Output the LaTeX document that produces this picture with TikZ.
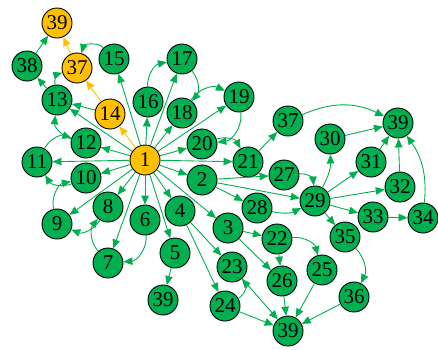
\documentclass[tikz,border=0pt]{standalone}
\usepackage{fontspec}
\setmainfont{Liberation Serif}
\usetikzlibrary{arrows.meta}
\definecolor{gn}{HTML}{00B050}
\definecolor{og}{HTML}{FFC000}
\begin{document}
\begin{tikzpicture}[x=1pt,y=1pt,
 vtx/.style={circle,draw=black,line width=0.9pt,fill=gn,minimum size=30pt,inner sep=0pt,font=\fontsize{21}{21}\selectfont},
 ovtx/.style={vtx,fill=og},
 ed/.style={draw=gn,line width=0.9pt,-{Triangle[length=9pt,width=7.5pt]}},
 oed/.style={ed,draw=og}]
\useasboundingbox (0,0) rectangle (438,-349);
\node[ovtx] (n39a) at (57,-23) {39};
\node[vtx] (n38) at (27,-66) {38};
\node[ovtx] (n37a) at (77,-68) {37};
\node[vtx] (n15) at (114,-59) {15};
\node[vtx] (n13) at (57,-100) {13};
\node[ovtx] (n14) at (110,-114) {14};
\node[vtx] (n17) at (182,-59) {17};
\node[vtx] (n16) at (148,-102) {16};
\node[vtx] (n18) at (182,-113) {18};
\node[vtx] (n19) at (239,-97) {19};
\node[vtx] (n12) at (86,-143) {12};
\node[vtx] (n20) at (202,-144) {20};
\node[ovtx] (n1) at (145,-160) {1};
\node[vtx] (n11) at (37,-162) {11};
\node[vtx] (n10) at (86,-178) {10};
\node[vtx] (n21) at (248,-162) {21};
\node[vtx] (n37b) at (288,-121) {37};
\node[vtx] (n30) at (330,-139) {30};
\node[vtx] (n39b) at (398,-123) {39};
\node[vtx] (n2) at (202,-180) {2};
\node[vtx] (n27) at (284,-175) {27};
\node[vtx] (n31) at (371,-162) {31};
\node[vtx] (n32) at (400,-187) {32};
\node[vtx] (n29) at (315,-201) {29};
\node[vtx] (n9) at (57,-224) {9};
\node[vtx] (n8) at (108,-207) {8};
\node[vtx] (n6) at (145,-220) {6};
\node[vtx] (n4) at (180,-211) {4};
\node[vtx] (n28) at (257,-208) {28};
\node[vtx] (n33) at (373,-217) {33};
\node[vtx] (n34) at (423,-218) {34};
\node[vtx] (n3) at (228,-228) {3};
\node[vtx] (n22) at (277,-239) {22};
\node[vtx] (n35) at (345,-237) {35};
\node[vtx] (n7) at (108,-263) {7};
\node[vtx] (n5) at (175,-253) {5};
\node[vtx] (n23) at (232,-267) {23};
\node[vtx] (n26) at (282,-281) {26};
\node[vtx] (n25) at (322,-270) {25};
\node[vtx] (n39c) at (163,-300) {39};
\node[vtx] (n24) at (225,-306) {24};
\node[vtx] (n36) at (354,-297) {36};
\node[vtx] (n39d) at (288,-331) {39};
% orange edges
\draw[oed] (n1) -- (n14);
\draw[oed] (n14) -- (n37a);
\draw[oed] (n37a) -- (n39a);
% edges from 1
\foreach \t in {n2,n3,n4,n5,n6,n7,n8,n9,n10,n11,n12,n13,n15,n16,n17,n18,n19,n20,n21}
  \draw[ed] (n1) -- (\t);
% upper left
\draw[ed] (n38) -- (n39a);
\draw[ed] (n13) -- (n38);
\draw[ed] (n14) -- (n13);
\draw[ed] (n13) to[bend left=40] (n37a);
\draw[ed] (n15) to[bend right=60] (n37a);
% ring of curved edges
\draw[ed] (n16) to[bend left=40] (n17);
\draw[ed] (n17) to[bend left=40] (n18);
\draw[ed] (n18) to[bend left=40] (n19);
\draw[ed] (n19) to[bend left=45] (n20);
\draw[ed] (n20) to[bend left=40] (n21);
\draw[ed] (n11) to[bend left=40] (n12);
\draw[ed] (n12) to[bend left=40] (n13);
\draw[ed] (n10) to[bend left=40] (n11);
\draw[ed] (n9) to[bend left=45] (n10);
\draw[ed] (n8) to[bend left=40] (n9);
\draw[ed] (n7) to[bend left=40] (n8);
\draw[ed] (n6) to[bend left=45] (n7);
% lower part
\draw[ed] (n5) -- (n39c);
\draw[ed] (n4) -- (n23);
\draw[ed] (n4) -- (n24);
\draw[ed] (n24) to[bend right=50] (n23);
\draw[ed] (n23) -- (n39d);
\draw[ed] (n24) -- (n39d);
\draw[ed] (n3) -- (n22);
\draw[ed] (n3) -- (n26);
\draw[ed] (n22) -- (n26);
\draw[ed] (n26) -- (n39d);
\draw[ed] (n22) to[bend left=40] (n25);
\draw[ed] (n25) -- (n39d);
\draw[ed] (n36) -- (n39d);
\draw[ed] (n35) to[bend left=35] (n36);
% right part
\draw[ed] (n21) -- (n37b);
\draw[ed] (n37b) to[bend left=25] (n39b);
\draw[ed] (n2) -- (n27);
\draw[ed] (n2) -- (n29);
\draw[ed] (n2) -- (n28);
\draw[ed] (n27) to[bend left=45] (n29);
\draw[ed] (n28) to[bend right=20] (n29);
\draw[ed] (n29) to[bend right=15] (n30);
\draw[ed] (n29) -- (n31);
\draw[ed] (n29) -- (n32);
\draw[ed] (n29) -- (n33);
\draw[ed] (n29) -- (n35);
\draw[ed] (n30) -- (n39b);
\draw[ed] (n31) -- (n39b);
\draw[ed] (n32) -- (n39b);
\draw[ed] (n33) -- (n34);
\draw[ed] (n34) to[bend right=20] (n39b);
\end{tikzpicture}
\end{document}
